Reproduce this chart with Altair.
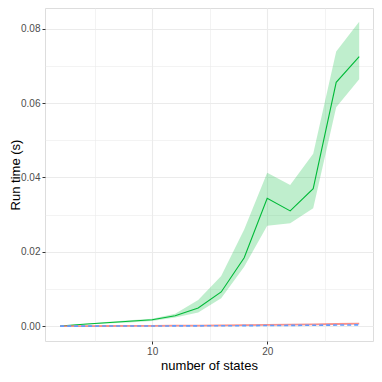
import altair as alt
import pandas as pd

states = [2, 4, 6, 8, 10, 12, 14, 16, 18, 20, 22, 24, 26, 28]
green_mean = [0.0, 0.0005, 0.0009, 0.0013, 0.0017, 0.0028, 0.0049, 0.0092, 0.0184, 0.0344, 0.0310, 0.0370, 0.0656, 0.0725]
green_lo = [0.0, 0.0004, 0.0007, 0.0010, 0.0014, 0.0023, 0.0037, 0.0075, 0.0160, 0.0270, 0.0277, 0.0317, 0.0589, 0.0664]
green_hi = [0.0001, 0.0006, 0.0011, 0.0016, 0.0020, 0.0033, 0.0070, 0.0135, 0.0260, 0.0413, 0.0380, 0.0464, 0.0739, 0.0819]
red_mean = [0.00001, 0.00002, 0.00004, 0.00006, 0.00009, 0.00012, 0.00016, 0.00020, 0.00026, 0.00033, 0.00040, 0.00048, 0.00057, 0.00066]
blue_mean = [0.000005, 0.00001, 0.00002, 0.00003, 0.00004, 0.00006, 0.00008, 0.00010, 0.00013, 0.00016, 0.00020, 0.00024, 0.00029, 0.00034]

x_major_minor = [5, 10, 15, 20, 25]
y_major_minor = [0.0, 0.01, 0.02, 0.03, 0.04, 0.05, 0.06, 0.07, 0.08]

df = pd.DataFrame({"states": states, "g": green_mean, "glo": green_lo, "ghi": green_hi,
                   "r": red_mean, "b": blue_mean})

SANS = "'Liberation Sans', Arial, sans-serif"

xscale = alt.Scale(domain=[0.68, 29.2], nice=False, zero=False)
yscale = alt.Scale(domain=[-0.004, 0.0856], nice=False, zero=False)

H = 333

xaxis = alt.Axis(
    values=x_major_minor, title="number of states",
    labelExpr="datum.value % 10 == 0 ? datum.label : ''",
    grid=True, gridColor="#ebebeb",
    gridWidth={"condition": {"test": "datum.value % 10 == 0", "value": 1.1}, "value": 0.6},
    tickOpacity={"condition": {"test": "datum.value % 10 == 0", "value": 1}, "value": 0},
    tickSize=3, tickColor="#333333", domain=False,
    labelFont=SANS, labelFontSize=10, labelColor="#4d4d4d", labelPadding=2,
    titleFont=SANS, titleFontSize=13, titleFontWeight="normal", titleColor="#000000",
    titlePadding=3,
)
yaxis = alt.Axis(
    values=y_major_minor, title="Run time (s)", format=".2f",
    labelExpr="abs(round(datum.value*100)) % 2 == 0 ? datum.label : ''",
    grid=True, gridColor="#ebebeb",
    gridWidth={"condition": {"test": "abs(round(datum.value*100)) % 2 == 0", "value": 1.1}, "value": 0.6},
    tickOpacity={"condition": {"test": "abs(round(datum.value*100)) % 2 == 0", "value": 1}, "value": 0},
    tickSize=3, tickColor="#333333", domain=False,
    labelFont=SANS, labelFontSize=10, labelColor="#4d4d4d", labelPadding=2,
    titleFont=SANS, titleFontSize=13, titleFontWeight="normal", titleColor="#000000",
    titleX=-36, titleY=H / 2, titleAngle=-90, titleBaseline="top", titleAlign="center",
)

base = alt.Chart(df)
ribbon = base.mark_area(color="#00BA38", opacity=0.25).encode(
    x=alt.X("states:Q", scale=xscale, axis=xaxis),
    y=alt.Y("glo:Q", scale=yscale, axis=yaxis),
    y2="ghi:Q",
)
gline = base.mark_line(color="#00BA38", strokeWidth=1.1).encode(x="states:Q", y="g:Q")
rline = base.mark_line(color="#F8766D", strokeWidth=1.8, opacity=0.8).encode(x="states:Q", y="r:Q")
bline = base.mark_line(color="#619CFF", strokeWidth=1.6, strokeDash=[4, 3]).encode(x="states:Q", y="b:Q")

chart = alt.layer(ribbon, gline, rline, bline).properties(
    width=328, height=H,
    autosize=alt.AutoSizeParams(type="none"),
    padding={"left": 37, "top": 0, "right": 1, "bottom": 32},
).configure_view(stroke="#7f7f7f", strokeWidth=1.3).configure(background="white")

chart.save("out.html", embed_options={"renderer": "svg", "actions": False})
